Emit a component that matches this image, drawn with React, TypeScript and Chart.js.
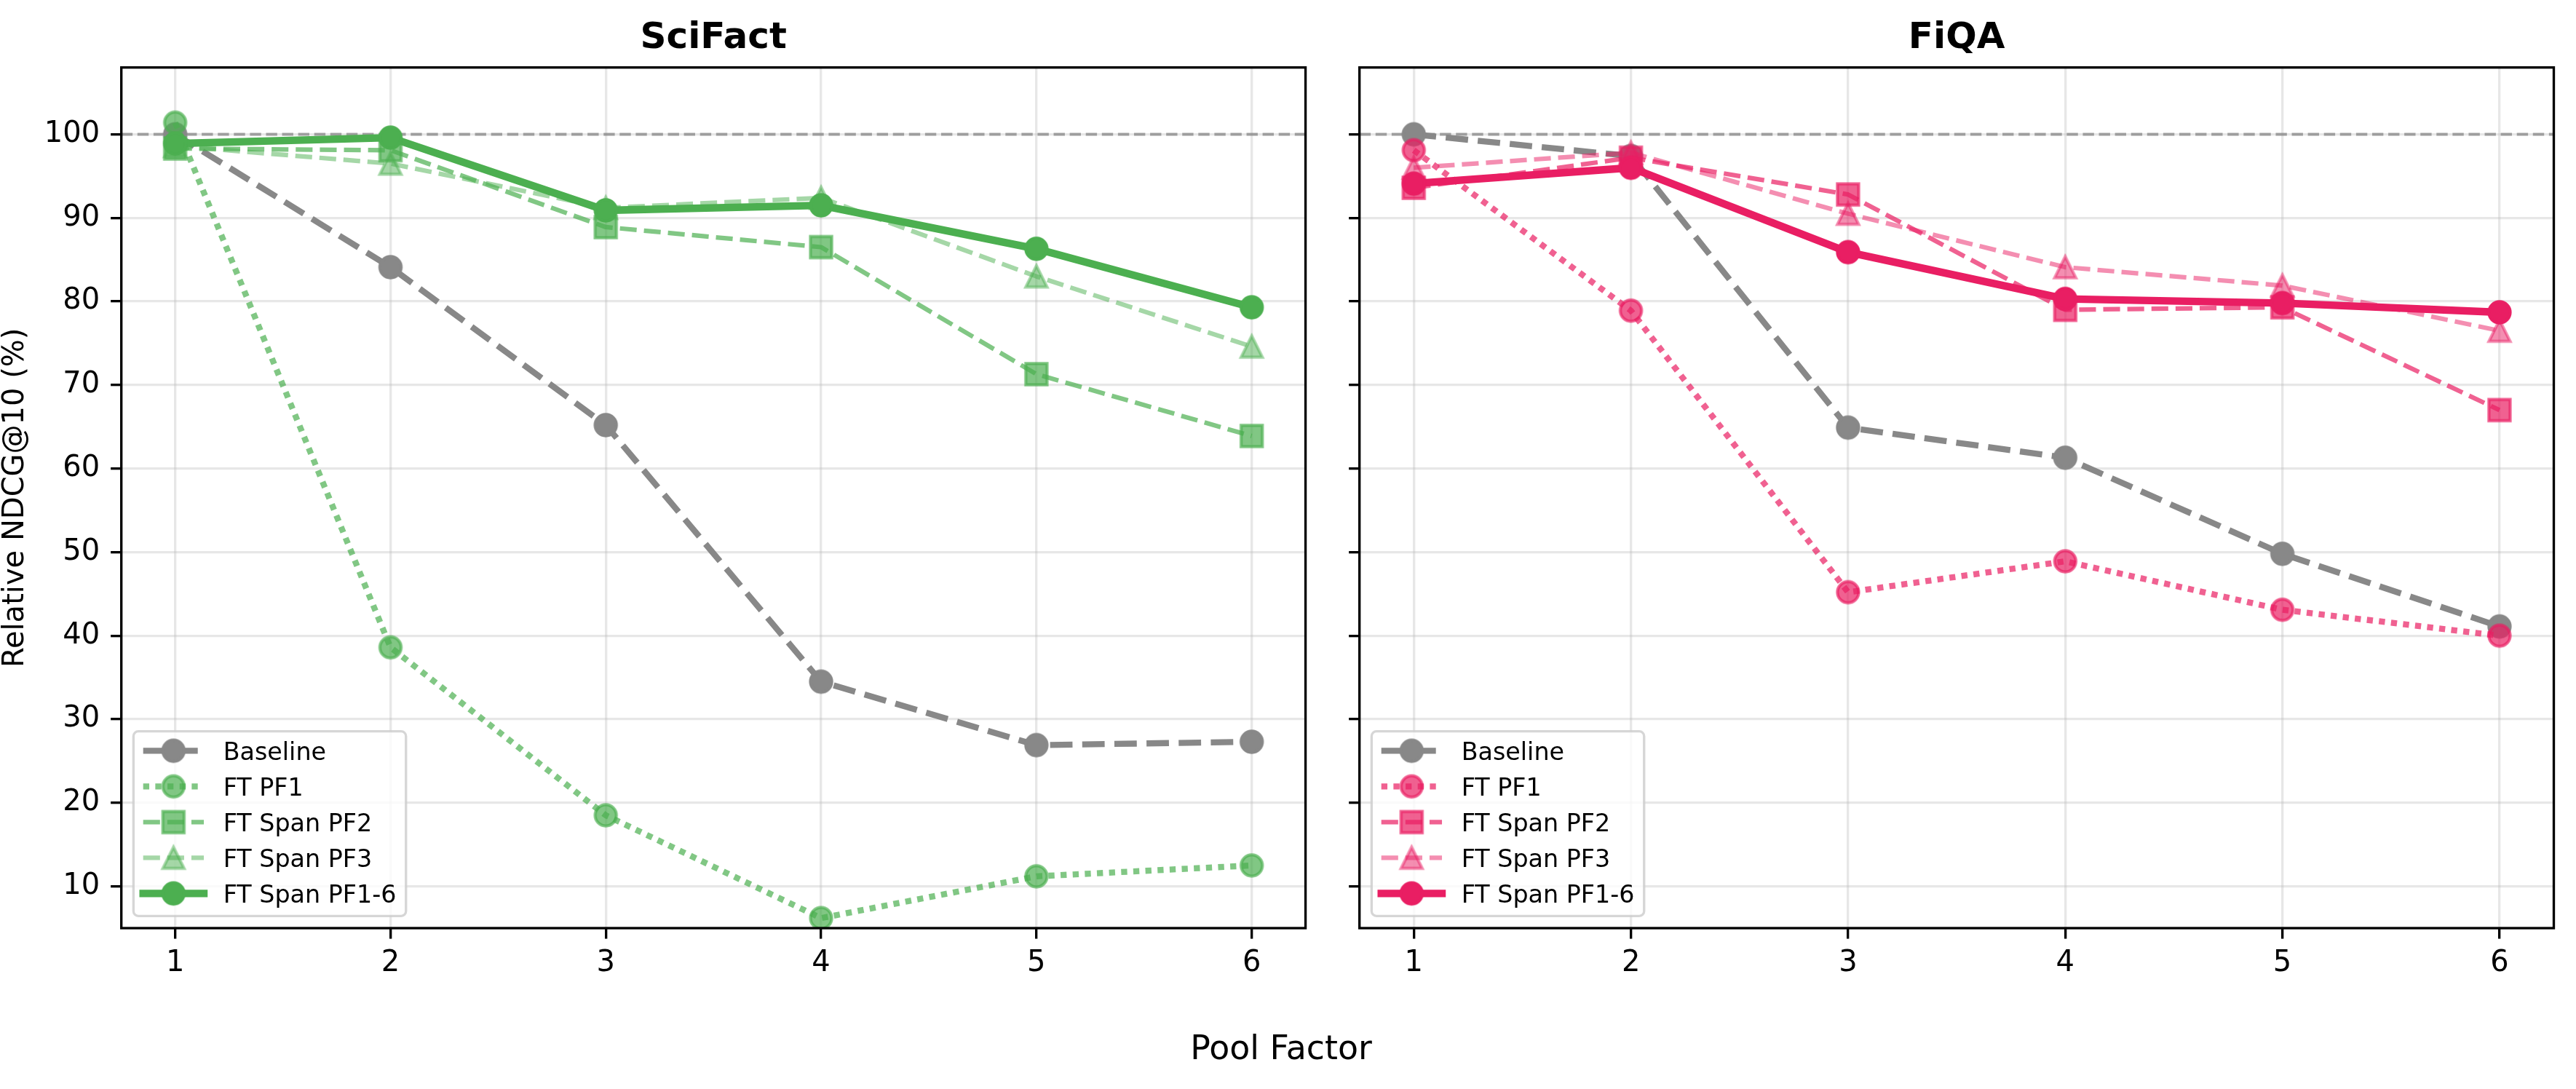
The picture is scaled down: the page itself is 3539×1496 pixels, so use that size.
import React, { useEffect, useRef } from 'react';
import { Chart, registerables } from 'chart.js';

Chart.register(...registerables);

// ---------------- data ----------------
const POOL_FACTORS = [1, 2, 3, 4, 5, 6];
const X_TICKS = [1, 2, 3, 4, 5, 6];
const Y_TICKS = [10, 20, 30, 40, 50, 60, 70, 80, 90, 100];
const X_MIN = 0.75;
const X_MAX = 6.25;
const Y_MIN = 5;
const Y_MAX = 108;
const REFERENCE_LEVEL = 100;

const PANEL_TITLES = ['SciFact', 'FiQA'];
const SERIES_LABELS = ['Baseline', 'FT PF1', 'FT Span PF2', 'FT Span PF3', 'FT Span PF1-6'];
const X_AXIS_TITLE = 'Pool Factor';
const Y_AXIS_TITLE = 'Relative NDCG@10 (%)';

const SCIFACT_BASELINE = [100, 84.1, 65.2, 34.5, 26.9, 27.3];
const SCIFACT_FT_PF1 = [101.4, 38.6, 18.5, 6.2, 11.2, 12.5];
const SCIFACT_SPAN_PF2 = [98.3, 98.1, 88.9, 86.5, 71.3, 63.9];
const SCIFACT_SPAN_PF3 = [98.6, 96.5, 91.2, 92.4, 83.0, 74.6];
const SCIFACT_SPAN_PF1_6 = [98.9, 99.6, 90.9, 91.5, 86.3, 79.3];

const FIQA_BASELINE = [100, 97.4, 64.9, 61.3, 49.8, 41.1];
const FIQA_FT_PF1 = [98.1, 78.9, 45.2, 48.9, 43.1, 40.0];
const FIQA_SPAN_PF2 = [93.6, 97.2, 92.8, 79.0, 79.3, 67.0];
const FIQA_SPAN_PF3 = [96.0, 97.8, 90.5, 84.1, 81.9, 76.5];
const FIQA_SPAN_PF1_6 = [94.1, 96.0, 85.9, 80.3, 79.8, 78.7];

// ---------------- styles ----------------
const PT = 300 / 72;
const FONT = "'DejaVu Sans', sans-serif";
const GRAY = '136,136,136';
const GREEN = '76,175,80';
const PINK = '233,30,99';

type MarkerKind = 'circle' | 'square' | 'triangle';
interface SeriesStyle {
  gray: boolean;
  alpha: number;
  width: number;
  dash: number[];
  marker: MarkerKind;
}
const SERIES_STYLES: SeriesStyle[] = [
  { gray: true, alpha: 1, width: 2 * PT, dash: [3.7 * 2 * PT, 1.6 * 2 * PT], marker: 'circle' },
  { gray: false, alpha: 0.7, width: 2 * PT, dash: [2 * PT, 2 * PT], marker: 'circle' },
  { gray: false, alpha: 0.7, width: 1.5 * PT, dash: [3.7 * 1.5 * PT, 1.6 * 1.5 * PT], marker: 'square' },
  { gray: false, alpha: 0.5, width: 1.5 * PT, dash: [3.7 * 1.5 * PT, 1.6 * 1.5 * PT], marker: 'triangle' },
  { gray: false, alpha: 1, width: 2.5 * PT, dash: [], marker: 'circle' },
];

const MARKER_SIZE = 7 * PT;
const MARKER_EDGE = 1 * PT;
const GRID_COLOR = 'rgba(176,176,176,0.3)';
const LINE_W = 0.8 * PT;

function makeMarker(kind: MarkerKind, rgb: string, alpha: number): HTMLCanvasElement {
  const size = 44;
  const c = document.createElement('canvas');
  c.width = size;
  c.height = size;
  const ctx = c.getContext('2d')!;
  const h = size / 2;
  const r = MARKER_SIZE / 2;
  ctx.fillStyle = `rgba(${rgb},${alpha})`;
  ctx.strokeStyle = `rgba(${rgb},${alpha})`;
  ctx.lineWidth = MARKER_EDGE;
  ctx.lineJoin = 'miter';
  ctx.beginPath();
  if (kind === 'circle') ctx.arc(h, h, r, 0, Math.PI * 2);
  else if (kind === 'square') ctx.rect(h - r, h - r, 2 * r, 2 * r);
  else {
    ctx.moveTo(h, h - r);
    ctx.lineTo(h - r, h + r);
    ctx.lineTo(h + r, h + r);
    ctx.closePath();
  }
  ctx.fill();
  ctx.stroke();
  return c;
}

const refLinePlugin = {
  id: 'refLine',
  beforeDatasetsDraw(chart: any) {
    const { ctx, chartArea } = chart;
    const y = chart.scales.y.getPixelForValue(REFERENCE_LEVEL);
    ctx.save();
    ctx.beginPath();
    ctx.rect(chartArea.left, chartArea.top, chartArea.right - chartArea.left, chartArea.bottom - chartArea.top);
    ctx.clip();
    ctx.strokeStyle = 'rgba(128,128,128,0.7)';
    ctx.lineWidth = 1 * PT;
    ctx.setLineDash([3.7 * PT, 1.6 * PT]);
    ctx.beginPath();
    ctx.moveTo(chartArea.left, y);
    ctx.lineTo(chartArea.right, y);
    ctx.stroke();
    ctx.restore();
  },
};

const framePlugin = {
  id: 'frame',
  afterDatasetsDraw(chart: any) {
    const { ctx, chartArea } = chart;
    ctx.save();
    ctx.strokeStyle = '#000';
    ctx.lineWidth = LINE_W;
    ctx.setLineDash([]);
    ctx.strokeRect(chartArea.left, chartArea.top, chartArea.right - chartArea.left, chartArea.bottom - chartArea.top);
    ctx.restore();
  },
};

function makeLegendPlugin(rgb: string, markers: HTMLCanvasElement[]) {
  return {
    id: 'innerLegend',
    afterDatasetsDraw(chart: any) {
      const { ctx, chartArea } = chart;
      const fs = 8 * PT;
      const pad = 0.4 * fs;
      const handleLen = 2.5 * fs;
      const textPad = 0.8 * fs;
      const rowGap = 49;
      const firstRow = 26.7;
      ctx.save();
      ctx.font = `${fs}px ${FONT}`;
      let maxW = 0;
      SERIES_LABELS.forEach((l) => {
        maxW = Math.max(maxW, ctx.measureText(l).width);
      });
      const W = pad + handleLen + textPad + maxW + pad;
      const H = firstRow + rowGap * (SERIES_LABELS.length - 1) + 31;
      const L = chartArea.left + 0.5 * fs;
      const T = chartArea.bottom - 0.5 * fs - H;
      // frame
      const rr = 0.2 * fs;
      ctx.beginPath();
      ctx.moveTo(L + rr, T);
      ctx.lineTo(L + W - rr, T);
      ctx.arcTo(L + W, T, L + W, T + rr, rr);
      ctx.lineTo(L + W, T + H - rr);
      ctx.arcTo(L + W, T + H, L + W - rr, T + H, rr);
      ctx.lineTo(L + rr, T + H);
      ctx.arcTo(L, T + H, L, T + H - rr, rr);
      ctx.lineTo(L, T + rr);
      ctx.arcTo(L, T, L + rr, T, rr);
      ctx.closePath();
      ctx.fillStyle = 'rgba(255,255,255,0.8)';
      ctx.fill();
      ctx.strokeStyle = 'rgba(204,204,204,0.8)';
      ctx.lineWidth = LINE_W;
      ctx.stroke();
      SERIES_LABELS.forEach((label, i) => {
        const st = SERIES_STYLES[i];
        const col = st.gray ? GRAY : rgb;
        const y = T + firstRow + i * rowGap;
        const x0 = L + pad;
        ctx.save();
        ctx.strokeStyle = `rgba(${col},${st.alpha})`;
        ctx.lineWidth = st.width;
        ctx.setLineDash(st.dash);
        ctx.lineCap = st.dash.length ? 'butt' : 'square';
        ctx.beginPath();
        ctx.moveTo(x0, y);
        ctx.lineTo(x0 + handleLen, y);
        ctx.stroke();
        ctx.restore();
        const m = markers[i];
        ctx.drawImage(m, x0 + handleLen / 2 - m.width / 2, y - m.height / 2);
        ctx.fillStyle = '#000';
        ctx.textBaseline = 'alphabetic';
        ctx.textAlign = 'left';
        ctx.fillText(label, x0 + handleLen + textPad, y + 0.365 * fs);
      });
      ctx.restore();
    },
  };
}

const yTitlePlugin = {
  id: 'yTitle',
  afterDraw(chart: any) {
    const { ctx, chartArea } = chart;
    ctx.save();
    ctx.font = `${40}px ${FONT}`;
    ctx.fillStyle = '#000';
    ctx.textAlign = 'center';
    ctx.textBaseline = 'alphabetic';
    ctx.translate(31.7, (chartArea.top + chartArea.bottom) / 2);
    ctx.rotate(-Math.PI / 2);
    ctx.fillText(Y_AXIS_TITLE, 0, 0);
    ctx.restore();
  },
};

interface PanelOpts {
  title: string;
  rgb: string;
  values: number[][];
  yAxisWidth: number;
  padRight: number;
  showYLabels: boolean;
  withYTitle: boolean;
}

function buildChart(canvas: HTMLCanvasElement, o: PanelOpts) {
  const markers = SERIES_STYLES.map((s) => makeMarker(s.marker, s.gray ? GRAY : o.rgb, s.alpha));
  const datasets = SERIES_LABELS.map((label, i) => {
    const st = SERIES_STYLES[i];
    const col = st.gray ? GRAY : o.rgb;
    return {
      label,
      data: POOL_FACTORS.map((x, j) => ({ x, y: o.values[i][j] })),
      borderColor: `rgba(${col},${st.alpha})`,
      backgroundColor: `rgba(${col},${st.alpha})`,
      borderWidth: st.width,
      borderDash: st.dash,
      borderCapStyle: st.dash.length ? 'butt' : 'square',
      borderJoinStyle: 'round',
      pointStyle: markers[i],
      pointRadius: 16,
      pointHoverRadius: 16,
      fill: false,
      tension: 0,
      clip: 0,
      order: SERIES_LABELS.length - i,
    };
  });
  const tickFont = { family: FONT, size: 40 };
  const plugins: any[] = [refLinePlugin, framePlugin, makeLegendPlugin(o.rgb, markers)];
  if (o.withYTitle) plugins.push(yTitlePlugin);
  return new Chart(canvas, {
    type: 'line',
    data: { datasets } as any,
    plugins,
    options: {
      responsive: false,
      animation: false,
      devicePixelRatio: 1,
      events: [],
      layout: { padding: { left: 0, right: o.padRight, top: 0, bottom: 0 } },
      plugins: {
        legend: { display: false },
        tooltip: { enabled: false },
        title: {
          display: true,
          text: o.title,
          fullSize: false,
          color: '#000',
          font: { family: FONT, size: 50, weight: 'bold' },
          padding: { top: 23.4, bottom: 9.3 },
        },
      },
      scales: {
        x: {
          type: 'linear',
          min: X_MIN,
          max: X_MAX,
          bounds: 'data',
          afterBuildTicks: (s: any) => {
            s.ticks = X_TICKS.map((v) => ({ value: v }));
          },
          afterFit: (s: any) => {
            s.height = 221;
          },
          ticks: { font: tickFont, color: '#000', padding: 10, maxRotation: 0, autoSkip: false },
          grid: {
            color: GRID_COLOR,
            lineWidth: LINE_W,
            drawTicks: true,
            tickLength: 3.5 * PT,
            tickColor: '#000',
            tickWidth: LINE_W,
          },
          border: { display: false },
        },
        y: {
          type: 'linear',
          min: Y_MIN,
          max: Y_MAX,
          bounds: 'data',
          afterBuildTicks: (s: any) => {
            s.ticks = Y_TICKS.map((v) => ({ value: v }));
          },
          afterFit: (s: any) => {
            s.width = o.yAxisWidth;
          },
          ticks: { display: o.showYLabels, font: tickFont, color: '#000', padding: 15, autoSkip: false },
          grid: {
            color: GRID_COLOR,
            lineWidth: LINE_W,
            drawTicks: true,
            tickLength: 3.5 * PT,
            tickColor: '#000',
            tickWidth: LINE_W,
          },
          border: { display: false },
        },
      },
    } as any,
  });
}

const LEFT_W = 1820;
const TOTAL_W = 3539;
const TOTAL_H = 1496;

export default function App() {
  const leftRef = useRef<HTMLCanvasElement>(null);
  const rightRef = useRef<HTMLCanvasElement>(null);

  useEffect(() => {
    document.body.style.margin = '0';
    const c1 = buildChart(leftRef.current!, {
      title: PANEL_TITLES[0],
      rgb: GREEN,
      values: [SCIFACT_BASELINE, SCIFACT_FT_PF1, SCIFACT_SPAN_PF2, SCIFACT_SPAN_PF3, SCIFACT_SPAN_PF1_6],
      yAxisWidth: 166.7,
      padRight: LEFT_W - 1808,
      showYLabels: true,
      withYTitle: true,
    });
    const c2 = buildChart(rightRef.current!, {
      title: PANEL_TITLES[1],
      rgb: PINK,
      values: [FIQA_BASELINE, FIQA_FT_PF1, FIQA_SPAN_PF2, FIQA_SPAN_PF3, FIQA_SPAN_PF1_6],
      yAxisWidth: 1867.7 - LEFT_W,
      padRight: TOTAL_W - 3508.5,
      showYLabels: false,
      withYTitle: false,
    });
    return () => {
      c1.destroy();
      c2.destroy();
    };
  }, []);

  return (
    <div
      style={{
        position: 'absolute',
        left: 0,
        top: 0,
        width: TOTAL_W,
        height: TOTAL_H,
        background: '#fff',
        overflow: 'hidden',
      }}
    >
      <canvas
        ref={leftRef}
        width={LEFT_W}
        height={TOTAL_H}
        style={{ position: 'absolute', left: 0, top: 0, display: 'block' }}
      />
      <canvas
        ref={rightRef}
        width={TOTAL_W - LEFT_W}
        height={TOTAL_H}
        style={{ position: 'absolute', left: LEFT_W, top: 0, display: 'block' }}
      />
      <div
        style={{
          position: 'absolute',
          left: 1760 - 500,
          width: 1000,
          top: 1417.3,
          textAlign: 'center',
          fontFamily: FONT,
          fontSize: 45.8,
          lineHeight: '45.8px',
          color: '#000',
          whiteSpace: 'nowrap',
        }}
      >
        {X_AXIS_TITLE}
      </div>
    </div>
  );
}
